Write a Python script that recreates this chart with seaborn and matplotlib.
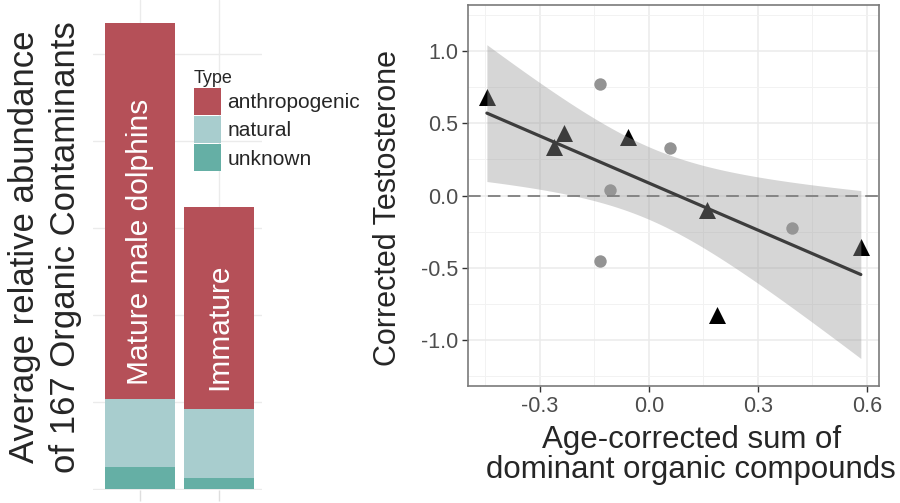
import numpy as np
import pandas as pd
import matplotlib
matplotlib.use("Agg")
import matplotlib.pyplot as plt
import seaborn as sns
from matplotlib.patches import Patch
from matplotlib.ticker import AutoMinorLocator

# left panel: stacked relative abundance (grid units)
groups = ["Mature male dolphins", "Immature"]
anthropogenic = [4.33, 2.32]
natural = [0.78, 0.79]
unknown = [0.25, 0.13]
type_names = ["anthropogenic", "natural", "unknown"]
type_colors = ["#b55058", "#a8cdce", "#65afa5"]

# right panel: testosterone vs compounds
tri_x = [-0.446, -0.262, -0.235, -0.059, 0.160, 0.187, 0.583]
tri_y = [0.68, 0.336, 0.433, 0.405, -0.10, -0.83, -0.355]
circ_x = [-0.136, -0.108, -0.134, 0.059, 0.394]
circ_y = [0.77, 0.035, -0.45, 0.33, -0.226]
x_ticks = [-0.3, 0.0, 0.3, 0.6]
y_ticks = [-1.0, -0.5, 0.0, 0.5, 1.0]

sns.set_theme(style="white")
plt.rcParams["font.family"] = ["Liberation Sans", "DejaVu Sans"]
plt.rcParams["axes.unicode_minus"] = False

fig = plt.figure(figsize=(9, 5.03), dpi=100)

# ---- left panel ----
axl = fig.add_axes([93 / 900, 13 / 503, 169 / 900, 490 / 503])
bars = pd.DataFrame({"group": groups, "anthropogenic": anthropogenic,
                     "natural": natural, "unknown": unknown})
stack = bars[["unknown", "natural", "anthropogenic"]].cumsum(axis=1)
for name, color in zip(type_names, type_colors):
    sns.barplot(x=bars["group"], y=stack[name], color=color, saturation=1,
                width=0.89, linewidth=0, order=groups, ax=axl)

for i, g in enumerate(groups):
    ypos = [2.84, 1.86][i]
    axl.text(i, ypos, g, rotation=90, color="white", fontsize=21.5,
             ha="center", va="center")

axl.set_xlim(-0.6, 1.55)
axl.set_ylim(-0.0115, 5.62)
axl.set_yticks(range(6))
axl.set_xticks([0, 1])
axl.set_xticklabels([])
axl.set_yticklabels([])
axl.set_xlabel("")
axl.set_ylabel("")
axl.grid(True, color="#ebebeb", lw=1)
axl.set_axisbelow(True)
for s in axl.spines.values():
    s.set_visible(False)
axl.tick_params(axis="x", bottom=True, length=8, color="#dedede", width=1)
axl.tick_params(axis="y", length=0)

fig.text(45 / 900, 1 - 247 / 503,
         "Average relative abundance\nof 167 Organic Contaminants",
         rotation=90, ha="center", va="center", fontsize=25,
         linespacing=1.28, multialignment="center")

handles = [Patch(facecolor=c, edgecolor="none", label=n)
           for n, c in zip(type_names, type_colors)]
fig.legend(handles=handles, title="Type", loc="upper left",
           bbox_to_anchor=(194 / 900, 1 - 70 / 503), frameon=False,
           fontsize=15, title_fontsize=13, handlelength=1.3,
           handleheight=1.62, handletextpad=0.3, labelspacing=0.05,
           borderpad=0, borderaxespad=0, alignment="left")

# ---- right panel ----
axr = fig.add_axes([468 / 900, 117 / 503, 411 / 900, 381 / 503])
all_x = np.array(tri_x + circ_x)
all_y = np.array(tri_y + circ_y)

sns.scatterplot(x=circ_x, y=circ_y, color="#939393", s=80, marker="o",
                linewidth=0, ax=axr, zorder=2)
sns.scatterplot(x=tri_x, y=tri_y, color="black", s=150, marker="^",
                linewidth=0, ax=axr, zorder=2)

# linear fit with 95% confidence band (t, df = n - 2 = 10)
n = len(all_x)
slope, icpt = np.polyfit(all_x, all_y, 1)
resid = all_y - (icpt + slope * all_x)
s_err = np.sqrt(np.sum(resid ** 2) / (n - 2))
grid = np.linspace(all_x.min(), all_x.max(), 100)
se = s_err * np.sqrt(1 / n + (grid - all_x.mean()) ** 2 /
                     np.sum((all_x - all_x.mean()) ** 2))
fit = icpt + slope * grid
axr.fill_between(grid, fit - 2.228 * se, fit + 2.228 * se,
                 color="#999999", alpha=0.4, lw=0, zorder=3)
sns.regplot(x=all_x, y=all_y, scatter=False, ci=None, color="#3d3d3d",
            line_kws={"lw": 2.3, "zorder": 4}, ax=axr)
axr.axhline(0, color="#7f7f7f", lw=1.3, dashes=(7, 4), zorder=3.5)

axr.set_xlim(-0.498, 0.633)
axr.set_ylim(-1.318, 1.318)
axr.set_xticks(x_ticks)
axr.set_xticklabels([f"{v:.1f}" for v in x_ticks])
axr.set_yticks(y_ticks)
axr.set_yticklabels([f"{v:.1f}" for v in y_ticks])
axr.xaxis.set_minor_locator(AutoMinorLocator(2))
axr.yaxis.set_minor_locator(AutoMinorLocator(2))
axr.grid(True, which="major", color="#ebebeb", lw=1.1)
axr.grid(True, which="minor", color="#f2f2f2", lw=0.7)
axr.set_axisbelow(True)
for s in axr.spines.values():
    s.set_color("#7a7a7a")
    s.set_linewidth(1.2)
axr.tick_params(which="major", length=4, width=1, color="#333333",
                labelsize=15.5, labelcolor="#4d4d4d", bottom=True, left=True,
                pad=3)
axr.tick_params(which="minor", length=0)

axr.set_ylabel("Corrected Testosterone", fontsize=22, va="center")
axr.yaxis.set_label_coords(-0.195, 0.467)
axr.set_xlabel("Age-corrected sum of\ndominant organic compounds",
               fontsize=22.5, va="center", linespacing=1.0)
axr.xaxis.set_label_coords(0.543, -0.18)

fig.savefig("out.png", dpi=100)
